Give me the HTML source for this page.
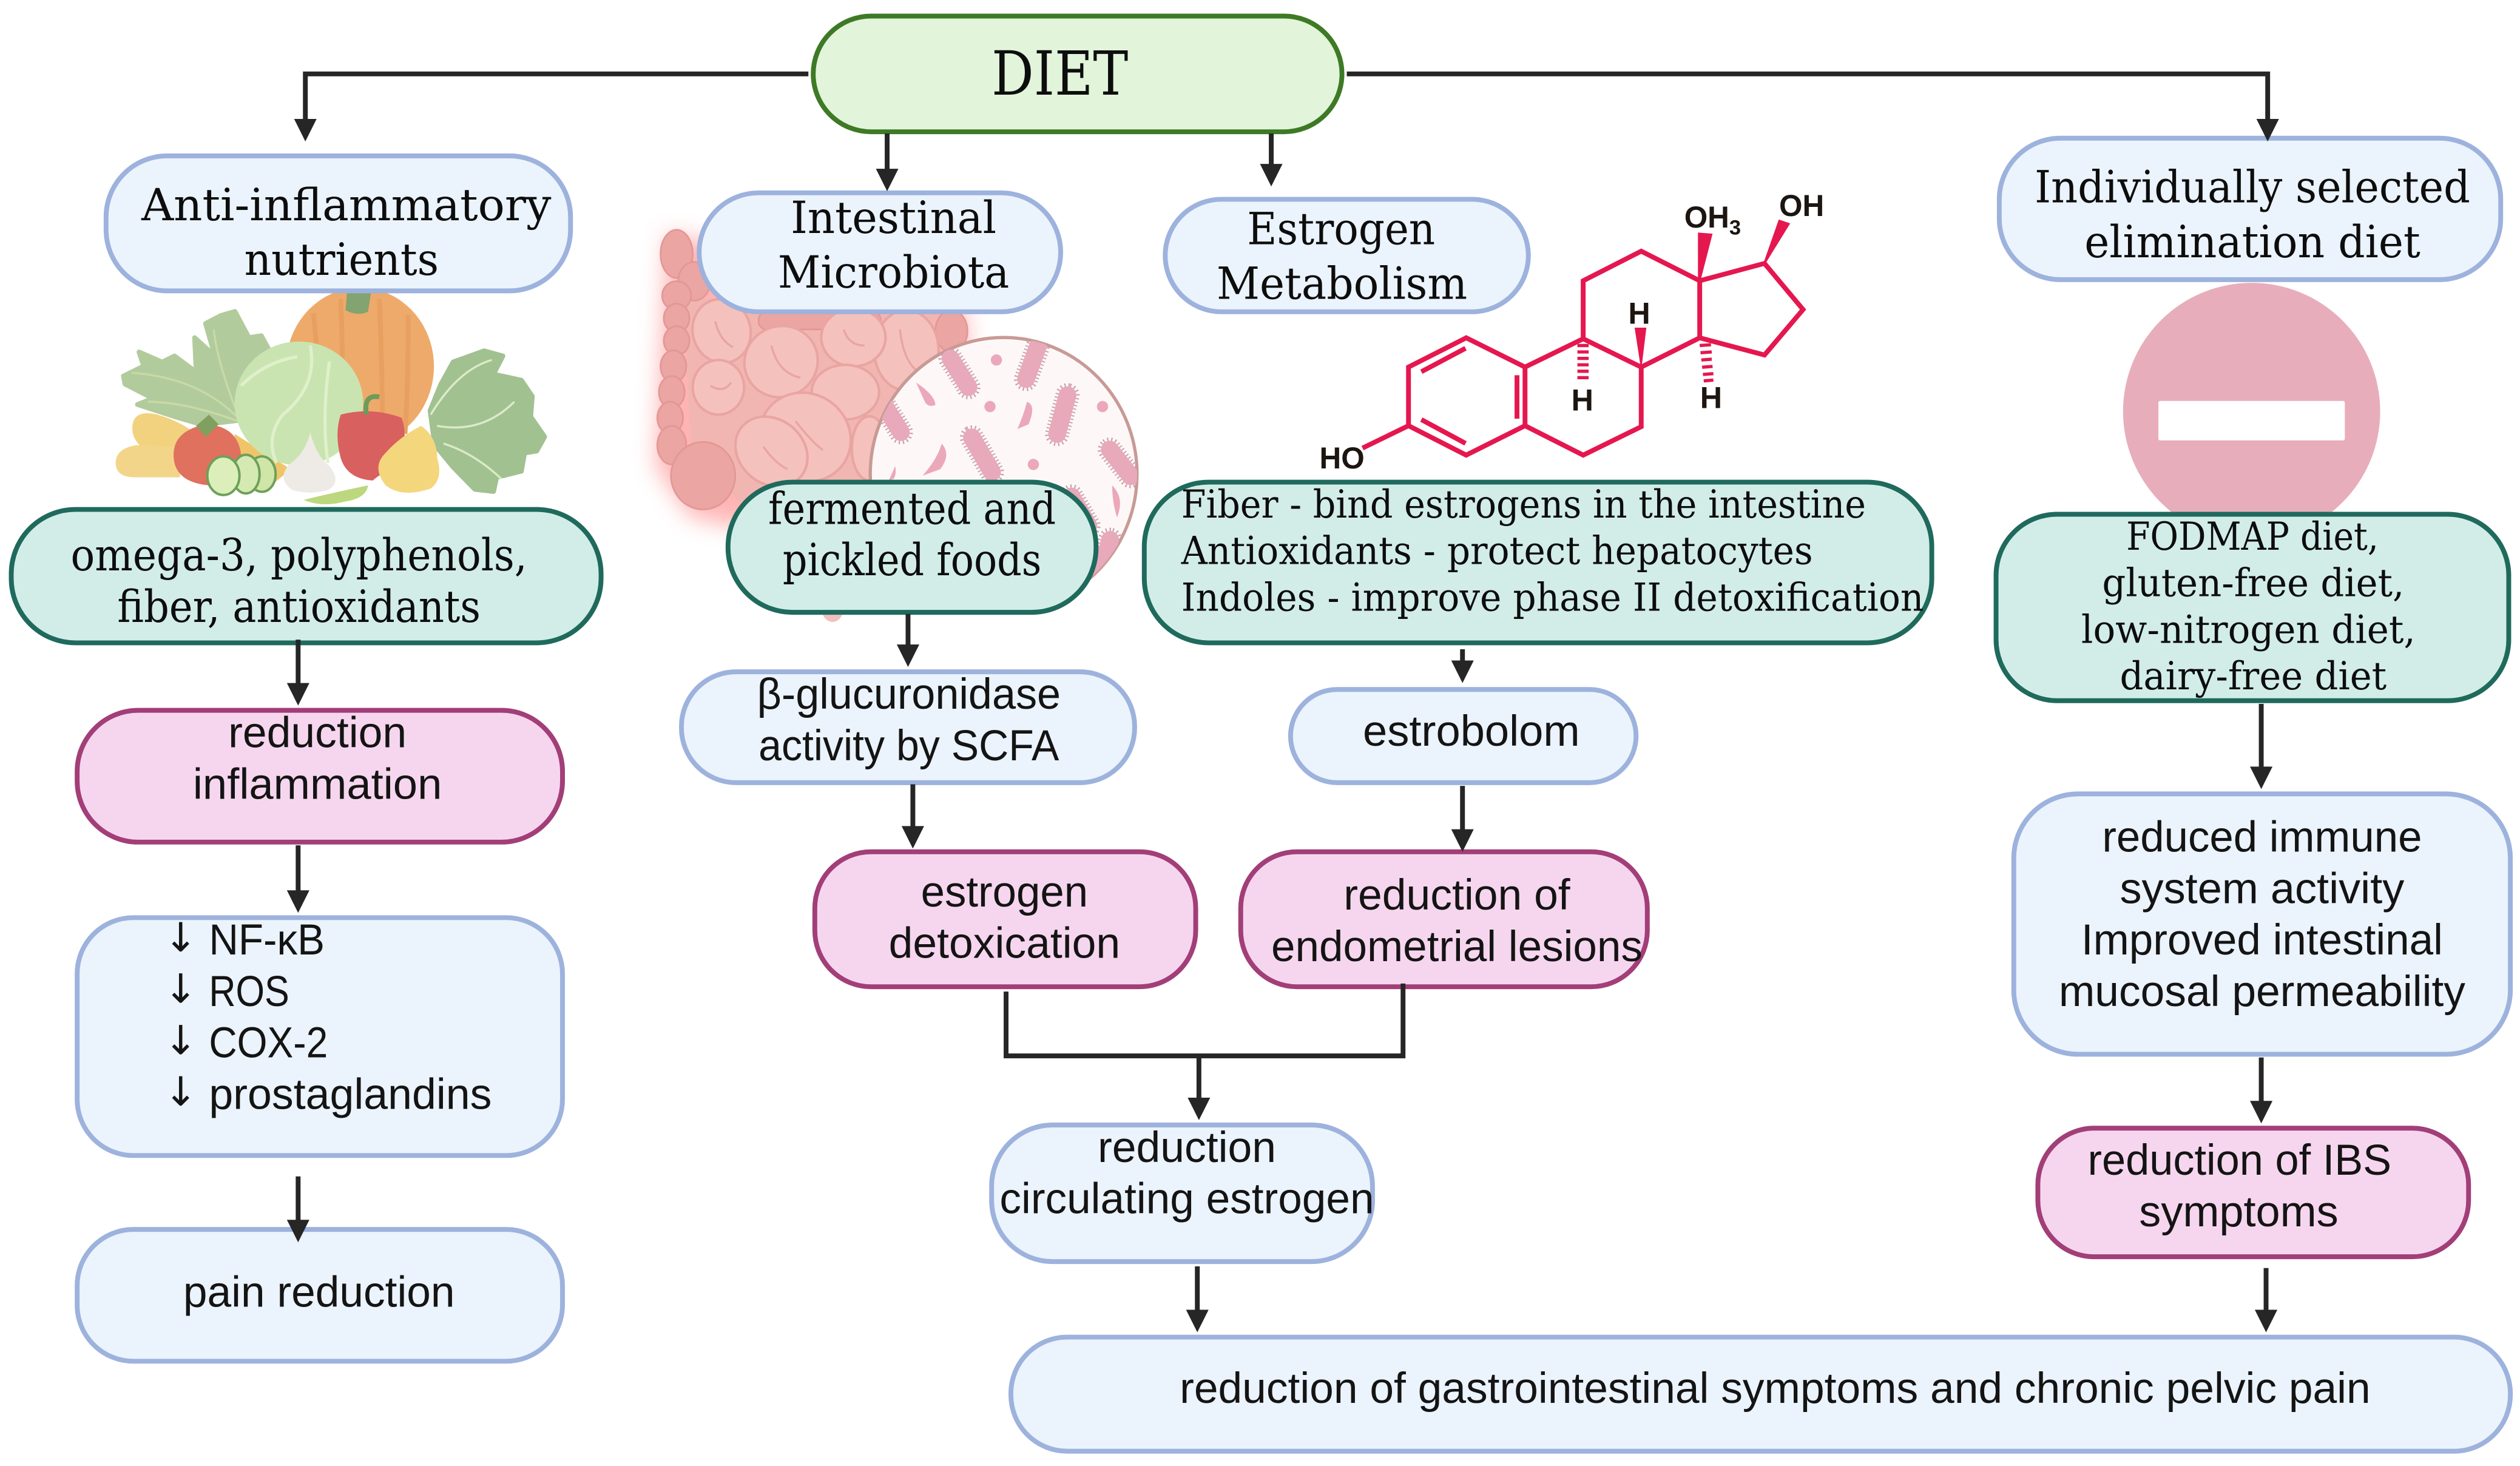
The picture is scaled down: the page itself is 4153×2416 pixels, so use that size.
<!DOCTYPE html>
<html><head><meta charset="utf-8"><style>
html,body{margin:0;padding:0;background:#fff}
svg{display:block}
.s{font-family:"DejaVu Serif","Liberation Serif",serif;fill:#0d0d0d;font-size:27.5px}
.t{font-family:"DejaVu Serif","Liberation Serif",serif;fill:#0d0d0d;font-size:24px}
.a{font-family:"Liberation Sans",sans-serif;fill:#141414;font-size:27px}
.ar{font-family:"DejaVu Sans",sans-serif;fill:#141414;font-size:25px}
.m{font-family:"Liberation Sans",sans-serif;font-weight:bold;fill:#1c1510;font-size:19px}
.b{fill:#ebf3fc;stroke:#9db2dd;stroke-width:3}
.g{fill:#d2ede8;stroke:#1f6a5c;stroke-width:3}
.p{fill:#f6d6ee;stroke:#a23e78;stroke-width:3}
.c{fill:none;stroke:#262626;stroke-width:3}
.h{fill:#262626}
.bond{fill:none;stroke:#e5174f;stroke-width:3;stroke-linejoin:miter}
.cap{fill:#e8a9bb;stroke:#c8a0aa;stroke-width:4;stroke-dasharray:.7 1.5;paint-order:stroke}
.dot{fill:#eca8bb}
.loop{fill:#f5c1bd;stroke:#e9a5a1;stroke-width:1.6}
.hx{fill:#eba5a2;stroke:#e39794;stroke-width:1}
.cr{fill:none;stroke:#e9a5a1;stroke-width:1.3}
</style></head><body>
<svg xmlns="http://www.w3.org/2000/svg" width="4153" height="2416" viewBox="0 0 1568 912.2" preserveAspectRatio="none">
<defs>
<filter id="gl" x="-30%" y="-30%" width="160%" height="160%"><feGaussianBlur stdDeviation="7"/></filter>
<clipPath id="cc"><ellipse cx="624.5" cy="295" rx="83" ry="85"/></clipPath>
</defs>
<rect width="1568" height="912.2" fill="#fff"/>

<!-- vegetables -->
<g>
<ellipse cx="224" cy="228" rx="46" ry="49" fill="#eeaa6a"/>
<path d="M195 195 Q200 240 198 270M212 186 Q214 230 212 270M236 186 Q238 230 238 270M254 196 Q254 240 252 270" stroke="#e8a060" stroke-width="3" fill="none"/>
<path d="M216 181 L231 181 L229 194 Q222 197 215 193Z" fill="#83a370"/>
<path d="M76.8 234L89.4 227.8L86.5 219L100.9 225.3L108.6 221.5L122.1 231.5L121.1 210.1L133.7 221.5L127.9 201.3L137.5 196.3L146.2 193.8L154.9 210.1L162.6 208.9L167.4 217.7L149 232.8L147.2 261.7L126 264.3L108.6 259.2L85.5 251.7L95.1 247.9L77.8 239Z" fill="#b2cb9c" stroke="#b2cb9c" stroke-width="3" stroke-linejoin="round"/>
<path d="M150 262 Q125 235 82 232M148 258 Q135 225 133 205M148 262 Q115 250 92 250" stroke="#c9d9a5" stroke-width="1.3" fill="none"/>
<path d="M267.6 255.5L274.3 239.1L282 225.2L301.3 218.3L312.9 221.5L307.1 232.8L324.4 236.6L331.2 246.6L330.2 259.2L338.9 271.8L334 280.6L326.4 281.9L324.4 293.2L309 297L307.1 305.8L295.5 304.5L282 290.7L270.5 276.8Z" fill="#a1c191" stroke="#a1c191" stroke-width="3" stroke-linejoin="round"/>
<path d="M268 258 Q285 230 306 224M272 265 Q300 270 320 250M276 276 Q295 282 312 298" stroke="#dceac8" stroke-width="1.3" fill="none"/>
<path d="M83 262 Q86 255 98 258 Q112 262 122 270 L112 280 L90 280 Q80 272 83 262Z" fill="#f2d27e"/>
<path d="M72 288 Q72 279 85 277 L112 278 L112 297 L84 297 Q72 297 72 288Z" fill="#f3d58a"/>
<path d="M146 270 L181 292 L170 301 L146 290Z" fill="#f0c56a"/>
<ellipse cx="186" cy="251" rx="40" ry="38.5" fill="#c9e4b0"/>
<path d="M193 215 Q198 240 176 258 Q165 272 172 288M205 225 Q200 260 204 288M150 240 Q165 225 185 222" stroke="#dff0cb" stroke-width="2" fill="none"/>
<path d="M108 283 Q108 268 128 264 Q148 265 150 283 Q150 299 130 302 Q108 300 108 283Z" fill="#e0715f"/>
<path d="M122 265 L128 272 L136 264 L130 258Z" fill="#80a060"/>
<ellipse cx="163" cy="295" rx="8.5" ry="11" fill="#cfe6a8" stroke="#6ea05a" stroke-width="1.5"/>
<ellipse cx="153" cy="295" rx="8.5" ry="12" fill="#d5eab2" stroke="#6ea05a" stroke-width="1.5"/>
<ellipse cx="139" cy="296" rx="10" ry="12" fill="#dcefbb" stroke="#6ea05a" stroke-width="1.5"/>
<path d="M193 269 Q197 284 205 290 Q213 300 204 305 Q193 308 182 305 Q172 298 180 289 Q190 282 193 269Z" fill="#eeeae6"/>
<path d="M212 258 Q231 253 250 260 Q255 275 246 290 Q235 296 232 299 Q216 298 212 285 Q208 270 212 258Z" fill="#d8605f"/>
<path d="M228 258 Q226 245 236 247" stroke="#6f9a5a" stroke-width="3" fill="none"/>
<path d="M238 284 Q248 272 262 265 Q272 272 272 285 Q276 298 268 304 Q250 310 240 302 Q232 292 238 284Z" fill="#f4d67d"/>
<path d="M189 311 Q210 306 229 302 Q228 310 215 312 Q200 316 189 311Z" fill="#bcd77e"/>
</g>

<!-- intestine -->
<g>
<path d="M415 145 L600 190 L603 225 L560 290 L520 340 L430 322 L408 290Z" fill="#ff6a6a" opacity=".5" filter="url(#gl)"/>
<ellipse cx="518" cy="378" rx="7" ry="9" fill="#ee9c9c" opacity=".65"/>
<path d="M425 185 L595 195 L590 250 L545 312 L460 312 L430 280Z" fill="#f2b6b2"/>
<g class="hx">
<ellipse cx="421" cy="158" rx="10" ry="15"/><ellipse cx="432" cy="175" rx="10" ry="12"/>
<ellipse cx="421" cy="184" rx="9" ry="9"/><ellipse cx="421" cy="198" rx="8" ry="9"/><ellipse cx="421" cy="212" rx="8" ry="9"/>
<ellipse cx="419" cy="228" rx="8" ry="10"/><ellipse cx="418" cy="244" rx="8" ry="10"/><ellipse cx="417" cy="260" rx="8" ry="10"/>
<ellipse cx="418" cy="277" rx="9" ry="12"/>
<rect x="472" y="194" width="76" height="11" rx="5"/>
<ellipse cx="592" cy="206" rx="10" ry="13"/>
</g>
<ellipse class="hx" cx="437.5" cy="296" rx="20" ry="21" fill="#e89a98"/>
<g class="loop">
<ellipse cx="449" cy="206" rx="18" ry="20" transform="rotate(-15 449 206)"/>
<ellipse cx="564" cy="218" rx="20" ry="25"/>
<ellipse cx="531" cy="210" rx="20" ry="18"/>
<ellipse cx="447" cy="241" rx="16" ry="17"/>
<ellipse cx="486" cy="225" rx="23" ry="22" transform="rotate(-25 486 225)"/>
<ellipse cx="526" cy="244" rx="21" ry="17"/>
<ellipse cx="541" cy="279" rx="11" ry="20"/>
<ellipse cx="501" cy="272" rx="29" ry="27" transform="rotate(35 501 272)"/>
<ellipse cx="480" cy="281" rx="24" ry="20" transform="rotate(40 480 281)"/>
</g>
<path class="cr" d="M480 215 Q484 232 498 235M445 200 Q448 212 456 216M442 240 Q450 245 455 238M495 262 Q505 275 512 280M475 278 Q482 288 490 292M525 205 Q528 215 538 215M560 205 Q562 225 572 232"/>
<ellipse cx="624.5" cy="295" rx="83" ry="85" fill="#fdf8f7" stroke="#c89a96" stroke-width="2"/>
<g clip-path="url(#cc)">
<g class="cap">
<rect x="-5.5" y="-16" width="11" height="32" rx="5.5" transform="translate(597 232) rotate(-32)"/>
<rect x="-5.5" y="-16" width="11" height="32" rx="5.5" transform="translate(642 226) rotate(20)"/>
<rect x="-5.5" y="-18" width="11" height="36" rx="5.5" transform="translate(661 258) rotate(15)"/>
<rect x="-5.5" y="-18" width="11" height="36" rx="5.5" transform="translate(611 283) rotate(-30)"/>
<rect x="-5.5" y="-16" width="11" height="32" rx="5.5" transform="translate(697 288) rotate(-38)"/>
<rect x="-5.5" y="-16" width="11" height="32" rx="5.5" transform="translate(555 260) rotate(-32)"/>
<rect x="-5.5" y="-16" width="11" height="32" rx="5.5" transform="translate(672 318) rotate(-30)"/>
<rect x="-5.5" y="-16" width="11" height="32" rx="5.5" transform="translate(688 346) rotate(15)"/>
</g>
<circle class="dot" cx="620" cy="224" r="3.5"/><circle class="dot" cx="616" cy="253" r="3.5"/><circle class="dot" cx="686" cy="253" r="3.5"/><circle class="dot" cx="643" cy="289" r="3.5"/>
<path d="M570 238 Q582 246 582 252 Q577 254 575 249Z M639 250 Q645 252 640 264 L633 267 Q637 258 639 250Z M586 276 Q592 283 585 292 L574 296 Q583 286 586 276Z M692 302 Q700 310 695 322 Q692 312 692 302Z M557 290 Q558 295 556 298 L553 299Z" class="dot"/>
</g>
</g>

<!-- no entry -->
<circle cx="1401" cy="256" r="80" fill="#e8adbb"/>
<rect x="1343" y="249.5" width="116" height="24.5" rx="1" fill="#fff"/>

<!-- molecule -->
<g class="bond">
<path d="M912.3 210.2 L876.4 228.4 L876.4 264.9 L912.3 283.2 L948.9 264.9 L948.9 228.4 Z"/>
<path d="M884.4 231.3 L911.9 216.7 M943.9 233.5 L943.9 260.5 M884.4 261.1 L911.9 275.9 M876.4 264.9 L847.8 278.8"/>
<path d="M948.9 228.4 L985.1 210.8 L1021.2 228.4 L1021.2 265.5 L985.1 283.2 L948.9 264.9"/>
<path d="M985.1 210.8 L985.1 174.7 L1021.2 156.3 L1057.6 174.7 L1057.6 210.2 L1021.2 228.4"/>
<path d="M1057.6 174.7 L1097.9 163.9 L1121.9 192.6 L1097.9 220.9 L1057.6 210.2"/>
</g>
<g fill="#e5174f">
<polygon points="1056.5,144.7 1065.6,145.4 1058,175 1056.5,175"/>
<polygon points="1106.8,136.6 1113.9,139 1098.5,164 1097.5,163"/>
<polygon points="1017.1,203.9 1024.4,203.9 1021.5,228 1020.8,228"/>
<path d="M981.5 214h7v2h-7zM981.5 218h7v2h-7zM981.5 222h7v2h-7zM981.5 226h7v2h-7zM981.5 230h7v2h-7zM981.5 234h7v2h-7z"/>
<path d="M1057.5 214l7-.5.2 2-7 .5zM1058 218.5l7-.5.2 2-7 .5zM1058.5 223l6.5-.5.2 2-6.5.5zM1059 227.5l6.5-.5.2 2-6.5.5zM1059.5 232l6.5-.5.2 2-6.5.5zM1060 236l6-.5.2 2-6 .5z"/>
</g>
<text class="m" x="1020" y="201.5" text-anchor="middle">H</text>
<text class="m" x="984.6" y="255.5" text-anchor="middle">H</text>
<text class="m" x="1064.7" y="254" text-anchor="middle">H</text>
<text class="m" x="821" y="291.5" textLength="28" lengthAdjust="spacingAndGlyphs">HO</text>
<text class="m" x="1048" y="141.5" textLength="28" lengthAdjust="spacingAndGlyphs">OH</text>
<text class="m" x="1076" y="146" style="font-size:13px">3</text>
<text class="m" x="1107" y="134.5" textLength="28" lengthAdjust="spacingAndGlyphs">OH</text>

<!-- boxes -->
<rect x="506" y="10" width="329" height="72" rx="36" fill="#e2f4da" stroke="#3e7a25" stroke-width="3"/>
<rect class="b" x="66" y="97" width="289" height="84" rx="38"/>
<rect class="b" x="435" y="120" width="225" height="74" rx="37"/>
<rect class="b" x="725" y="124" width="226" height="70" rx="35"/>
<rect class="b" x="1244" y="86" width="312" height="88" rx="38"/>
<rect class="g" x="7" y="317" width="367" height="83" rx="40"/>
<rect class="g" x="453" y="300" width="229" height="81" rx="40"/>
<rect class="g" x="712" y="300" width="490" height="100" rx="40"/>
<rect class="g" x="1242" y="320" width="319" height="116" rx="38"/>
<rect class="p" x="48" y="442" width="302" height="82" rx="38"/>
<rect class="p" x="507" y="530" width="237" height="84" rx="35"/>
<rect class="p" x="772" y="530" width="253" height="84" rx="35"/>
<rect class="p" x="1268" y="702" width="268" height="80" rx="35"/>
<rect class="b" x="48" y="571" width="302" height="148" rx="35"/>
<rect class="b" x="48" y="765" width="302" height="82" rx="35"/>
<rect class="b" x="424" y="418" width="282" height="69" rx="34"/>
<rect class="b" x="803" y="429" width="215" height="58" rx="29"/>
<rect class="b" x="1253" y="494" width="309" height="162" rx="40"/>
<rect class="b" x="617" y="700" width="237" height="85" rx="38"/>
<rect class="b" x="629" y="832" width="933" height="71" rx="35"/>

<!-- connectors -->
<path class="c" d="M503 46 H190 V76"/><polygon class="h" points="183,74 197,74 190,88"/>
<path class="c" d="M838 46 H1411 V76"/><polygon class="h" points="1404,74 1418,74 1411,88"/>
<path class="c" d="M552 83 V108"/><polygon class="h" points="545,105 559,105 552,119"/>
<path class="c" d="M791 83 V105"/><polygon class="h" points="784,102 798,102 791,116"/>
<path class="c" d="M185.5 398 V428"/><polygon class="h" points="178.5,425 192.5,425 185.5,439"/>
<path class="c" d="M185.5 526 V556"/><polygon class="h" points="178.5,554 192.5,554 185.5,568"/>
<path class="c" d="M185.5 732 V762"/><polygon class="h" points="178.5,759 192.5,759 185.5,773"/>
<path class="c" d="M565 382 V404"/><polygon class="h" points="558,401 572,401 565,415"/>
<path class="c" d="M568 488 V518"/><polygon class="h" points="561,514 575,514 568,528"/>
<path class="c" d="M910 404 V414"/><polygon class="h" points="903,411 917,411 910,425"/>
<path class="c" d="M910 489 V520"/><polygon class="h" points="903,516 917,516 910,530"/>
<path class="c" d="M1407 438 V480"/><polygon class="h" points="1400,477 1414,477 1407,491"/>
<path class="c" d="M1407 658 V688"/><polygon class="h" points="1400,685 1414,685 1407,699"/>
<path class="c" d="M1410 789 V818"/><polygon class="h" points="1403,815 1417,815 1410,829"/>
<path class="c" d="M745 788 V818"/><polygon class="h" points="738,815 752,815 745,829"/>
<path class="c" d="M626 617 V657 H873 V612"/>
<path class="c" d="M746 657 V686"/><polygon class="h" points="739,683 753,683 746,697"/>

<!-- serif text -->
<text class="s" x="617" y="59" textLength="85" lengthAdjust="spacingAndGlyphs" style="font-size:38px">DIET</text>
<text class="s" x="88" y="137" textLength="255" lengthAdjust="spacingAndGlyphs">Anti-inflammatory</text>
<text class="s" x="152" y="171" textLength="121" lengthAdjust="spacingAndGlyphs">nutrients</text>
<text class="s" x="492" y="145" textLength="128" lengthAdjust="spacingAndGlyphs">Intestinal</text>
<text class="s" x="484" y="179" textLength="144" lengthAdjust="spacingAndGlyphs">Microbiota</text>
<text class="s" x="776" y="152" textLength="117" lengthAdjust="spacingAndGlyphs">Estrogen</text>
<text class="s" x="757" y="186" textLength="156" lengthAdjust="spacingAndGlyphs">Metabolism</text>
<text class="s" x="1266" y="126" textLength="271" lengthAdjust="spacingAndGlyphs">Individually selected</text>
<text class="s" x="1297" y="160" textLength="209" lengthAdjust="spacingAndGlyphs">elimination diet</text>
<text class="s" x="44" y="355" textLength="284" lengthAdjust="spacingAndGlyphs">omega-3, polyphenols,</text>
<text class="s" x="73" y="387" textLength="226" lengthAdjust="spacingAndGlyphs">fiber, antioxidants</text>
<text class="s" x="478" y="326" textLength="179" lengthAdjust="spacingAndGlyphs">fermented and</text>
<text class="s" x="487" y="358" textLength="161" lengthAdjust="spacingAndGlyphs">pickled foods</text>
<text class="t" x="735" y="322" textLength="426" lengthAdjust="spacingAndGlyphs">Fiber - bind estrogens in the intestine</text>
<text class="t" x="735" y="351" textLength="393" lengthAdjust="spacingAndGlyphs">Antioxidants - protect hepatocytes</text>
<text class="t" x="735" y="380" textLength="462" lengthAdjust="spacingAndGlyphs">Indoles - improve phase II detoxification</text>
<text class="t" x="1323" y="342" textLength="157" lengthAdjust="spacingAndGlyphs">FODMAP diet,</text>
<text class="t" x="1308" y="371" textLength="188" lengthAdjust="spacingAndGlyphs">gluten-free diet,</text>
<text class="t" x="1295" y="400" textLength="208" lengthAdjust="spacingAndGlyphs">low-nitrogen diet,</text>
<text class="t" x="1319" y="429" textLength="166" lengthAdjust="spacingAndGlyphs">dairy-free diet</text>

<!-- sans text -->
<text class="a" x="142" y="465" textLength="111" lengthAdjust="spacingAndGlyphs">reduction</text>
<text class="a" x="120" y="497" textLength="155" lengthAdjust="spacingAndGlyphs">inflammation</text>
<text class="ar" x="112.4" y="592" text-anchor="middle">↓</text><text class="a" x="130" y="594" textLength="72" lengthAdjust="spacingAndGlyphs">NF-κB</text>
<text class="ar" x="112.4" y="624" text-anchor="middle">↓</text><text class="a" x="130" y="626" textLength="50" lengthAdjust="spacingAndGlyphs">ROS</text>
<text class="ar" x="112.4" y="656" text-anchor="middle">↓</text><text class="a" x="130" y="658" textLength="74" lengthAdjust="spacingAndGlyphs">COX-2</text>
<text class="ar" x="112.4" y="688" text-anchor="middle">↓</text><text class="a" x="130" y="690" textLength="176" lengthAdjust="spacingAndGlyphs">prostaglandins</text>
<text class="a" x="114" y="813" textLength="169" lengthAdjust="spacingAndGlyphs">pain reduction</text>
<text class="a" x="471" y="441" textLength="189" lengthAdjust="spacingAndGlyphs">β-glucuronidase</text>
<text class="a" x="472" y="473" textLength="187" lengthAdjust="spacingAndGlyphs">activity by SCFA</text>
<text class="a" x="848" y="464" textLength="135" lengthAdjust="spacingAndGlyphs">estrobolom</text>
<text class="a" x="573" y="564" textLength="104" lengthAdjust="spacingAndGlyphs">estrogen</text>
<text class="a" x="553" y="596" textLength="144" lengthAdjust="spacingAndGlyphs">detoxication</text>
<text class="a" x="836" y="566" textLength="141" lengthAdjust="spacingAndGlyphs">reduction of</text>
<text class="a" x="791" y="598" textLength="231" lengthAdjust="spacingAndGlyphs">endometrial lesions</text>
<text class="a" x="683" y="723" textLength="111" lengthAdjust="spacingAndGlyphs">reduction</text>
<text class="a" x="622" y="755" textLength="233" lengthAdjust="spacingAndGlyphs">circulating estrogen</text>
<text class="a" x="1308" y="530" textLength="199" lengthAdjust="spacingAndGlyphs">reduced immune</text>
<text class="a" x="1319" y="562" textLength="177" lengthAdjust="spacingAndGlyphs">system activity</text>
<text class="a" x="1295" y="594" textLength="225" lengthAdjust="spacingAndGlyphs">Improved intestinal</text>
<text class="a" x="1281" y="626" textLength="253" lengthAdjust="spacingAndGlyphs">mucosal permeability</text>
<text class="a" x="1299" y="731" textLength="189" lengthAdjust="spacingAndGlyphs">reduction of IBS</text>
<text class="a" x="1331" y="763" textLength="124" lengthAdjust="spacingAndGlyphs">symptoms</text>
<text class="a" x="734" y="873" textLength="741" lengthAdjust="spacingAndGlyphs">reduction of gastrointestinal symptoms and chronic pelvic pain</text>
</svg>
</body></html>
